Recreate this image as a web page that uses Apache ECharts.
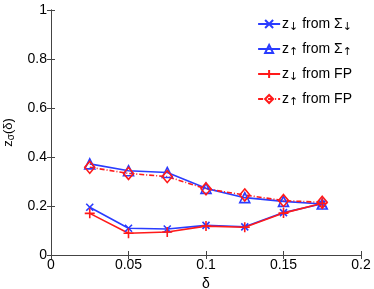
<!DOCTYPE html>
<html><head><meta charset="utf-8">
<script src="https://cdn.jsdelivr.net/npm/echarts@6/dist/echarts.min.js"></script>
<style>html,body{margin:0;padding:0;background:#fff}#c{width:374px;height:289px}</style>
</head><body><div id="c"></div>
<script>
const deltas = [0.025, 0.05, 0.075, 0.1, 0.125, 0.15, 0.175];
const zDownSigma = [0.195, 0.109, 0.106, 0.121, 0.115, 0.173, 0.209];
const zUpSigma   = [0.372, 0.344, 0.337, 0.272, 0.234, 0.219, 0.208];
const zDownFP    = [0.170, 0.089, 0.094, 0.118, 0.113, 0.171, 0.211];
const zUpFP      = [0.358, 0.333, 0.320, 0.270, 0.245, 0.222, 0.215];
const xTicks = [0, 0.05, 0.1, 0.15, 0.2];
const yTicks = [0, 0.2, 0.4, 0.6, 0.8, 1];
const legendLabels = {
  a: '{t|z}{s|↓}{t| from Σ}{s|↓}',
  b: '{t|z}{s|↑}{t| from Σ}{s|↑}',
  c: '{t|z}{s|↓}{t| from FP}',
  d: '{t|z}{s|↑}{t| from FP}'
};
const BLUE = '#2a3cff', RED = '#ff1a1a';
const font = 'Liberation Sans, Arial, sans-serif';
const arrowFont = 'DejaVu Sans, sans-serif';
function pairs(v){ return deltas.map((d,i)=>[d,v[i]]); }
const chart = echarts.init(document.getElementById('c'), null, {renderer:'canvas'});
const axisLine = {show:true, lineStyle:{color:'#444', width:1}};
const mk = (name, data, color, symbol, size, dashed) => ({
  name, type:'line', data: pairs(data), symbol, symbolSize:size,
  lineStyle:{color, width:1.6, type: dashed ? [5,2,1,2] : 'solid'},
  itemStyle:{color:'none', borderColor:color, borderWidth:1.6},
  xAxisIndex:0, yAxisIndex:0, animation:false
});
chart.setOption({
  animation:false,
  grid:{left:51, right:13, top:10, bottom:34, containLabel:false, outerBoundsMode:'none'},
  legend:{
    orient:'vertical', right:17, top:12, itemGap:9, itemWidth:22, itemHeight:10,
    data:['a','b','c','d'],
    formatter: n => legendLabels[n],
    textStyle:{fontFamily:font, color:'#000', padding:[0,0,0,-3], rich:{
      t:{fontSize:14, fontFamily:font, color:'#000'},
      s:{fontSize:11, fontFamily:arrowFont, color:'#000', padding:[7,0,0,0]}
    }}
  },
  xAxis:[{
    type:'value', min:0, max:0.2, interval:0.05,
    axisLine, axisTick:{inside:true, length:4, lineStyle:{color:'#444'}},
    splitLine:{show:false},
    axisLabel:{fontFamily:font, fontSize:14, color:'#000', margin:3,
      formatter: v => xTicks.includes(+v.toFixed(3)) ? String(+v.toFixed(3)) : ''},
    name:'δ', nameLocation:'middle', nameGap:16,
    nameTextStyle:{fontFamily:font, fontSize:14, color:'#000'}
  },{
    type:'value', min:0, max:0.2, interval:0.05, position:'top',
    axisLine, axisTick:{inside:true, length:4, lineStyle:{color:'#444'}},
    axisLabel:{show:false}, splitLine:{show:false}
  }],
  yAxis:[{
    type:'value', min:0, max:1, interval:0.2,
    axisLine, axisTick:{inside:true, length:4, lineStyle:{color:'#444'}},
    splitLine:{show:false},
    axisLabel:{fontFamily:font, fontSize:14, color:'#000', margin:4,
      formatter: v => yTicks.includes(+v.toFixed(2)) ? String(+v.toFixed(2)) : ''},
    name:'{t|z}{s|σ}{t|(δ)}', nameLocation:'middle', nameGap:29, nameRotate:90,
    nameTextStyle:{fontFamily:font, fontSize:13, color:'#000',
      rich:{t:{fontSize:13, fontFamily:font}, s:{fontSize:10, fontFamily:font, padding:[6,0,0,0]}}}
  },{
    type:'value', min:0, max:1, interval:0.2, position:'right',
    axisLine, axisTick:{inside:true, length:4, lineStyle:{color:'#444'}},
    axisLabel:{show:false}, splitLine:{show:false}
  }],
  series:[
    mk('a', zDownSigma, BLUE, 'path://M0,0L10,10M10,0L0,10', 7, false),
    mk('b', zUpSigma, BLUE, 'triangle', 10, false),
    mk('c', zDownFP, RED, 'path://M5,0L5,10M0,5L10,5', 10, false),
    mk('d', zUpFP, RED, 'diamond', [10, 12], true)
  ]
});
</script></body></html>
